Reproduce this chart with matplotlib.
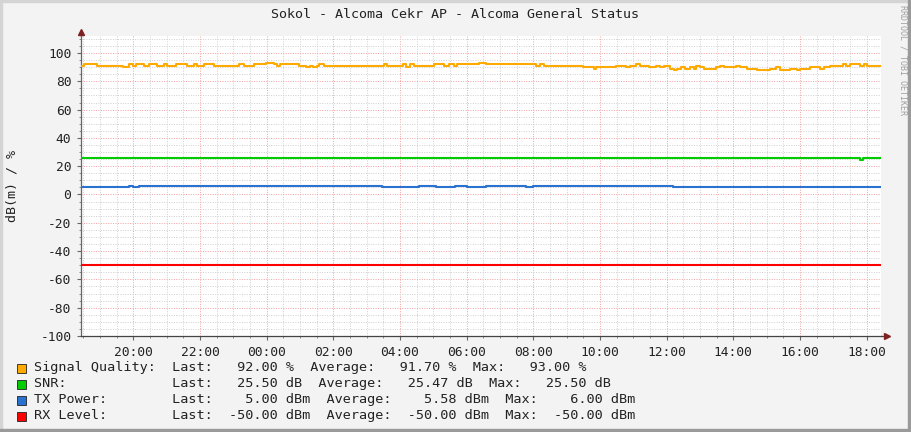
import pandas as pd
import matplotlib
matplotlib.use("Agg")
import matplotlib.pyplot as plt
import matplotlib.dates as mdates
from matplotlib.ticker import MultipleLocator
from matplotlib.patches import Rectangle

# Data (hours after graph start, value at that step)
start = pd.Timestamp("2024-01-01 18:26")
span_hours = 24

sq_hours = [0, 0.08, 0.48, 1.25, 1.45, 1.57, 1.65, 1.90, 2.05, 2.28, 2.48, 2.58, 2.85, 3.18,
            3.38, 3.48, 3.68, 3.98, 4.75, 4.88, 5.18, 5.56, 5.78, 5.88, 5.98, 6.55, 6.75,
            6.88, 6.97, 7.08, 7.15, 7.28, 9.08, 9.18, 9.65, 9.76, 9.86, 9.98, 10.58, 10.88,
            11.05, 11.18, 11.28, 11.95, 12.15, 13.65, 13.78, 13.88, 15.05, 15.38, 15.45,
            16.05, 16.35, 16.48, 16.65, 16.78, 17.05, 17.25, 17.38, 17.48, 17.68, 17.78,
            17.88, 18.0, 18.12, 18.28, 18.38, 18.45, 18.58, 18.68, 19.05, 19.18, 19.28,
            19.65, 19.78, 19.98, 20.28, 20.68, 20.85, 20.98, 21.28, 21.48, 21.58, 21.88,
            22.18, 22.28, 22.48, 22.85, 22.95, 23.08, 23.38, 23.48, 23.58]
sq_vals = [91, 92, 91, 90, 92, 91, 92, 91, 92, 91, 92, 91, 92, 91,
           92, 91, 92, 91, 92, 91, 92, 93, 92, 91, 92, 91, 90,
           91, 90, 91, 92, 91, 92, 91, 92, 90, 92, 91, 92, 91,
           92, 91, 92, 93, 92, 91, 92, 91, 90, 89, 90,
           91, 90, 91, 92, 91, 90, 91, 90, 91, 89, 88,
           89, 90, 89, 90, 89, 91, 90, 89, 90, 91, 90,
           91, 90, 89, 88, 89, 90, 88, 89, 88, 89, 90,
           89, 90, 91, 92, 91, 92, 91, 92, 91]

snr_hours = [0, 23.37, 23.47]
snr_vals = [25.5, 24.5, 25.5]

tx_hours = [0, 0.97, 1.15, 1.27, 1.45, 1.57, 1.75, 9.02, 9.87, 10.02, 10.15, 10.65, 10.77,
            11.22, 11.57, 11.67, 11.77, 11.97, 12.15, 13.35, 13.47, 13.57, 17.77, 17.87]
tx_vals = [5, 5.5, 5, 5.5, 6, 5.5, 6, 5, 5.5, 5, 6, 5.5, 5,
           6, 5.5, 5, 5.5, 5, 6, 5.5, 5, 6, 5.5, 5]

rx_hours = [0]
rx_vals = [-50]

series_names = ["Signal Quality:", "SNR:", "TX Power:", "RX Level:"]
series_units = ["%", "dB", "dBm", "dBm"]
last_vals = [92.00, 25.50, 5.00, -50.00]
avg_vals = [91.70, 25.47, 5.58, -50.00]
max_vals = [93.00, 25.50, 6.00, -50.00]
colors = ["#FFAA00", "#00CC00", "#2A72D0", "#FF0000"]

title = "Sokol - Alcoma Cekr AP - Alcoma General Status"
ylabel = "dB(m) / %"

plt.rcParams["font.family"] = ["DejaVu Sans Mono"]
plt.rcParams["axes.unicode_minus"] = False

W, H = 911, 432
fig = plt.figure(figsize=(W / 100, H / 100), dpi=100, facecolor="#F3F3F3")

# 3D-ish frame
fig.patches.append(Rectangle((0, 0), 2 / W, 1, transform=fig.transFigure, color="#D4D4D4", zorder=0))
fig.patches.append(Rectangle((0, 1 - 2 / H), 1, 2 / H, transform=fig.transFigure, color="#D4D4D4", zorder=0))
fig.patches.append(Rectangle((1 - 3 / W, 0), 3 / W, 1, transform=fig.transFigure, color="#9A9A9A", zorder=0))
fig.patches.append(Rectangle((0, 0), 1, 3 / H, transform=fig.transFigure, color="#9A9A9A", zorder=0))

ax = fig.add_axes([81 / W, 96 / H, 800 / W, 300 / H])
ax.set_facecolor("white")


def to_time(hours, vals):
    t = [start + pd.Timedelta(hours=h) for h in hours] + [start + pd.Timedelta(hours=span_hours)]
    return t, list(vals) + [vals[-1]]


for hrs, vals, c in [(sq_hours, sq_vals, colors[0]), (snr_hours, snr_vals, colors[1]),
                     (tx_hours, tx_vals, colors[2]), (rx_hours, rx_vals, colors[3])]:
    t, v = to_time(hrs, vals)
    ax.plot(t, v, drawstyle="steps-post", color=c, lw=1.5, zorder=3, solid_capstyle="butt")

ax.set_xlim(start, start + pd.Timedelta(hours=span_hours))
ax.set_ylim(-100, 112)

ax.xaxis.set_major_locator(mdates.HourLocator(byhour=range(0, 24, 2)))
ax.xaxis.set_major_formatter(mdates.DateFormatter("%H:%M"))
ax.xaxis.set_minor_locator(mdates.MinuteLocator(byminute=[0, 30]))
ax.yaxis.set_major_locator(MultipleLocator(20))
ax.yaxis.set_minor_locator(MultipleLocator(5))

ax.grid(which="minor", color="#CFCFCF", linestyle=(0, (1, 1.5)), lw=0.7, zorder=1)
ax.grid(which="major", color="#F2A0A0", linestyle=(0, (1, 1.5)), lw=0.7, zorder=2)

for s in ["top", "right"]:
    ax.spines[s].set_visible(False)
ax.spines["left"].set_color("#666666")
ax.spines["bottom"].set_color("#444444")
ax.spines["left"].set_linewidth(0.9)
ax.spines["bottom"].set_linewidth(0.9)

ax.tick_params(which="major", length=3, width=0.8, color="#666666", labelsize=9.3,
               labelcolor="#222222", pad=4)
ax.tick_params(which="minor", length=1.5, width=0.7, color="#888888")

# axis arrows
ax.plot([1, 1.008], [0, 0], transform=ax.transAxes, clip_on=False, color="#444444", lw=0.9)
ax.plot([1.008], [0], marker=">", ms=4, color="#802020", transform=ax.transAxes, clip_on=False)
ax.plot([0, 0], [1, 1.015], transform=ax.transAxes, clip_on=False, color="#666666", lw=0.9)
ax.plot([0], [1.015], marker="^", ms=4, color="#802020", transform=ax.transAxes, clip_on=False)

fig.text(455 / W, 1 - 14 / H, title, ha="center", va="center", fontsize=9.6, color="#222222")
fig.text(12 / W, 1 - 186 / H, ylabel, ha="center", va="center", rotation=90, fontsize=9.6,
         color="#222222")
fig.text(903 / W, 1 - 5 / H, "RRDTOOL / TOBI OETIKER", ha="center", va="top", rotation=270,
         fontsize=6.0, color="#A0A0A0")

# legend rows
for i in range(4):
    yc = 1 - (368 + 16 * i) / H
    fig.patches.append(Rectangle((17 / W, yc - 4.5 / H), 9 / W, 9 / H, transform=fig.transFigure,
                                 facecolor=colors[i], edgecolor="#222222", lw=0.6))
    u = series_units[i]
    line = (f"{series_names[i]:<17}Last:{last_vals[i]:8.2f} {u}  "
            f"Average:{avg_vals[i]:8.2f} {u}  Max:{max_vals[i]:8.2f} {u}")
    fig.text(34 / W, yc, line, ha="left", va="center", fontsize=9.7, color="#222222")

fig.savefig("out.png", dpi=100, facecolor=fig.get_facecolor())
